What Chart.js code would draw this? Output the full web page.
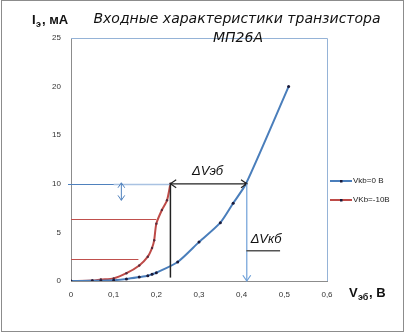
<!DOCTYPE html>
<html>
<head>
<meta charset="utf-8">
<script src="https://cdn.jsdelivr.net/npm/chart.js@4"></script>
<style>
  html, body { margin: 0; padding: 0; background: #fff; }
  #wrap { position: relative; width: 406px; height: 333px; }
</style>
</head>
<body>
<div id="wrap"><canvas id="chart" width="406" height="333"></canvas></div>
<script>
// series: Vкб = 0 В
const vkb0X = [0, 0.05, 0.07, 0.1, 0.13, 0.16, 0.18, 0.19, 0.2, 0.25, 0.3, 0.35, 0.38, 0.41, 0.51];
const vkb0Y = [0, 0.02, 0.03, 0.08, 0.2, 0.4, 0.55, 0.7, 0.85, 1.95, 4.0, 6.0, 8.0, 10.0, 20.0];
// series: Vкб = -10 В
const vkb10X = [0, 0.05, 0.07, 0.1, 0.13, 0.16, 0.18, 0.19, 0.195, 0.2, 0.213, 0.225, 0.233];
const vkb10Y = [0, 0.05, 0.15, 0.27, 0.8, 1.6, 2.5, 3.4, 4.2, 5.9, 7.3, 8.3, 10.0];
const seriesNames = ["Vkb=0 B", "VKb=-10B"];
const xTicks = [0, 0.1, 0.2, 0.3, 0.4, 0.5, 0.6];
const yTicks = [0, 5, 10, 15, 20, 25];

const toPoints = (xs, ys) => xs.map((x, i) => ({ x: x, y: ys[i] }));

function arrowHead(ctx, x, y, dir, size) {
  // open chevron pointing in direction dir (radians)
  ctx.beginPath();
  ctx.moveTo(x - size * Math.cos(dir - 0.6), y - size * Math.sin(dir - 0.6));
  ctx.lineTo(x, y);
  ctx.lineTo(x - size * Math.cos(dir + 0.6), y - size * Math.sin(dir + 0.6));
  ctx.stroke();
}

const decorations = {
  id: "decorations",
  afterDraw(chart) {
    const ctx = chart.ctx;
    const xs = chart.scales.x;
    const ys = chart.scales.y;
    const px = (v) => xs.getPixelForValue(v);
    const py = (v) => ys.getPixelForValue(v);
    const a = chart.chartArea;
    ctx.save();

    // plot area top/right border
    ctx.strokeStyle = "#95b3d7";
    ctx.lineWidth = 1;
    ctx.beginPath();
    ctx.moveTo(a.left, a.top + 0.5);
    ctx.lineTo(a.right + 0.5, a.top + 0.5);
    ctx.lineTo(a.right + 0.5, a.bottom);
    ctx.stroke();

    // horizontal helper lines
    ctx.strokeStyle = "#4f81bd";
    ctx.beginPath();
    ctx.moveTo(px(-0.007), Math.round(py(10)) + 0.5);
    ctx.lineTo(px(0.233), Math.round(py(10)) + 0.5);
    ctx.stroke();
    ctx.strokeStyle = "#a9c2e2";
    ctx.lineWidth = 1.5;
    ctx.beginPath();
    ctx.moveTo(px(0.1), Math.round(py(10)) + 0.5);
    ctx.lineTo(px(0.233), Math.round(py(10)) + 0.5);
    ctx.stroke();
    ctx.lineWidth = 1;
    ctx.strokeStyle = "#c0504d";
    ctx.beginPath();
    ctx.moveTo(px(0), Math.round(py(6.35)) + 0.5);
    ctx.lineTo(px(0.2), Math.round(py(6.35)) + 0.5);
    ctx.moveTo(px(0), Math.round(py(2.25)) + 0.5);
    ctx.lineTo(px(0.158), Math.round(py(2.25)) + 0.5);
    ctx.stroke();

    // small blue double arrow
    ctx.strokeStyle = "#4f81bd";
    ctx.beginPath();
    ctx.moveTo(px(0.118), py(10.1));
    ctx.lineTo(px(0.118), py(8.3));
    ctx.stroke();
    arrowHead(ctx, px(0.118), py(10.1), -Math.PI / 2, 6);
    arrowHead(ctx, px(0.118), py(8.3), Math.PI / 2, 6);

    // black vertical line
    ctx.strokeStyle = "#222";
    ctx.lineWidth = 1.5;
    ctx.beginPath();
    ctx.moveTo(px(0.233), py(10));
    ctx.lineTo(px(0.233), py(0.35));
    ctx.stroke();

    // ΔVэб double arrow
    ctx.lineWidth = 1.2;
    ctx.beginPath();
    ctx.moveTo(px(0.233), py(10));
    ctx.lineTo(px(0.412), py(10));
    ctx.stroke();
    arrowHead(ctx, px(0.233), py(10), Math.PI, 7);
    arrowHead(ctx, px(0.412), py(10), 0, 7);

    // ΔVкб vertical arrow
    ctx.strokeStyle = "#6fa0d8";
    ctx.lineWidth = 1.2;
    ctx.beginPath();
    ctx.moveTo(px(0.412), py(10));
    ctx.lineTo(px(0.412), py(0));
    ctx.stroke();
    arrowHead(ctx, px(0.412), py(0), Math.PI / 2, 7);

    // leader line
    ctx.strokeStyle = "#555";
    ctx.lineWidth = 1.5;
    ctx.beginPath();
    ctx.moveTo(px(0.411), py(3.1));
    ctx.lineTo(px(0.49), py(3.1));
    ctx.stroke();

    // labels
    ctx.fillStyle = "#111";
    ctx.font = "italic 13px 'Liberation Sans'";
    ctx.textAlign = "center";
    ctx.textBaseline = "alphabetic";
    ctx.fillText("ΔVэб", px(0.32), py(10.9));
    ctx.textAlign = "left";
    ctx.fillText("ΔVкб", px(0.421), py(3.9));

    // title
    ctx.font = "italic 14px 'DejaVu Sans'";
    ctx.textAlign = "center";
    ctx.fillText("Входные характеристики транзистора", 237, 23);
    ctx.fillText("МП26А", 238, 42);

    // axis titles
    ctx.textAlign = "left";
    ctx.font = "bold 13px 'Liberation Sans'";
    ctx.fillText("I", 32, 24);
    ctx.font = "bold 9px 'Liberation Sans'";
    ctx.fillText("э", 36, 27);
    ctx.font = "bold 13px 'Liberation Sans'";
    ctx.fillText(", мА", 42, 24);

    ctx.fillText("V", 349, 297);
    ctx.font = "bold 9px 'Liberation Sans'";
    ctx.fillText("эб", 358, 300);
    ctx.font = "bold 13px 'Liberation Sans'";
    ctx.fillText(", В", 369, 297);

    // legend
    const colors = ["#4a7ebb", "#be4b48"];
    const ly = [181, 200];
    ctx.font = "8px 'Liberation Sans'";
    ctx.textBaseline = "middle";
    seriesNames.forEach((name, i) => {
      ctx.strokeStyle = colors[i];
      ctx.lineWidth = 2;
      ctx.beginPath();
      ctx.moveTo(330, ly[i]);
      ctx.lineTo(352, ly[i]);
      ctx.stroke();
      ctx.fillStyle = "#1a1a3a";
      ctx.fillRect(340, ly[i] - 1, 2.5, 2.5);
      ctx.fillStyle = "#222";
      ctx.fillText(name, 353, ly[i]);
    });

    // outer frame
    ctx.strokeStyle = "#8c8c8c";
    ctx.lineWidth = 1;
    ctx.strokeRect(1.5, 0.5, 402, 331);
    ctx.restore();
  },
};

const ctx = document.getElementById("chart").getContext("2d");
const chart = new Chart(ctx, {
  type: "scatter",
  data: {
    datasets: [
      {
        label: seriesNames[0],
        data: toPoints(vkb0X, vkb0Y),
        showLine: true,
        borderColor: "#4a7ebb",
        borderWidth: 2,
        tension: 0.25,
        pointRadius: 1.5,
        pointBackgroundColor: "#1a1a3a",
        pointBorderWidth: 0,
      },
      {
        label: seriesNames[1],
        data: toPoints(vkb10X, vkb10Y),
        showLine: true,
        borderColor: "#be4b48",
        borderWidth: 2,
        tension: 0.25,
        pointRadius: 1.2,
        pointBackgroundColor: "#5a2a3a",
        pointBorderWidth: 0,
      },
    ],
  },
  options: {
    responsive: false,
    animation: false,
    layout: { padding: { left: 0, top: 38, right: 79, bottom: 0 } },
    plugins: {
      legend: { display: false },
      tooltip: { enabled: false },
    },
    scales: {
      x: {
        type: "linear",
        min: 0,
        max: 0.6,
        afterBuildTicks: (scale) => {
          scale.ticks = xTicks.map((v) => ({ value: v }));
        },
        afterFit: (scale) => {
          scale.height = 52;
        },
        grid: { display: false, drawTicks: false },
        border: { display: true, color: "#8c8c8c", width: 1 },
        ticks: {
          padding: 9,
          color: "#333",
          font: { size: 8, family: "'Liberation Sans'" },
          callback: (v) => (v === 0 ? "0" : Number(v).toFixed(1).replace(".", ",")),
        },
      },
      y: {
        type: "linear",
        min: 0,
        max: 25,
        afterBuildTicks: (scale) => {
          scale.ticks = yTicks.map((v) => ({ value: v }));
        },
        afterFit: (scale) => {
          scale.width = 71;
        },
        grid: { display: false, drawTicks: false },
        border: { display: true, color: "#8c8c8c", width: 1 },
        ticks: {
          padding: 10,
          color: "#333",
          font: { size: 8, family: "'Liberation Sans'" },
        },
      },
    },
  },
  plugins: [decorations],
});
</script>
</body>
</html>
